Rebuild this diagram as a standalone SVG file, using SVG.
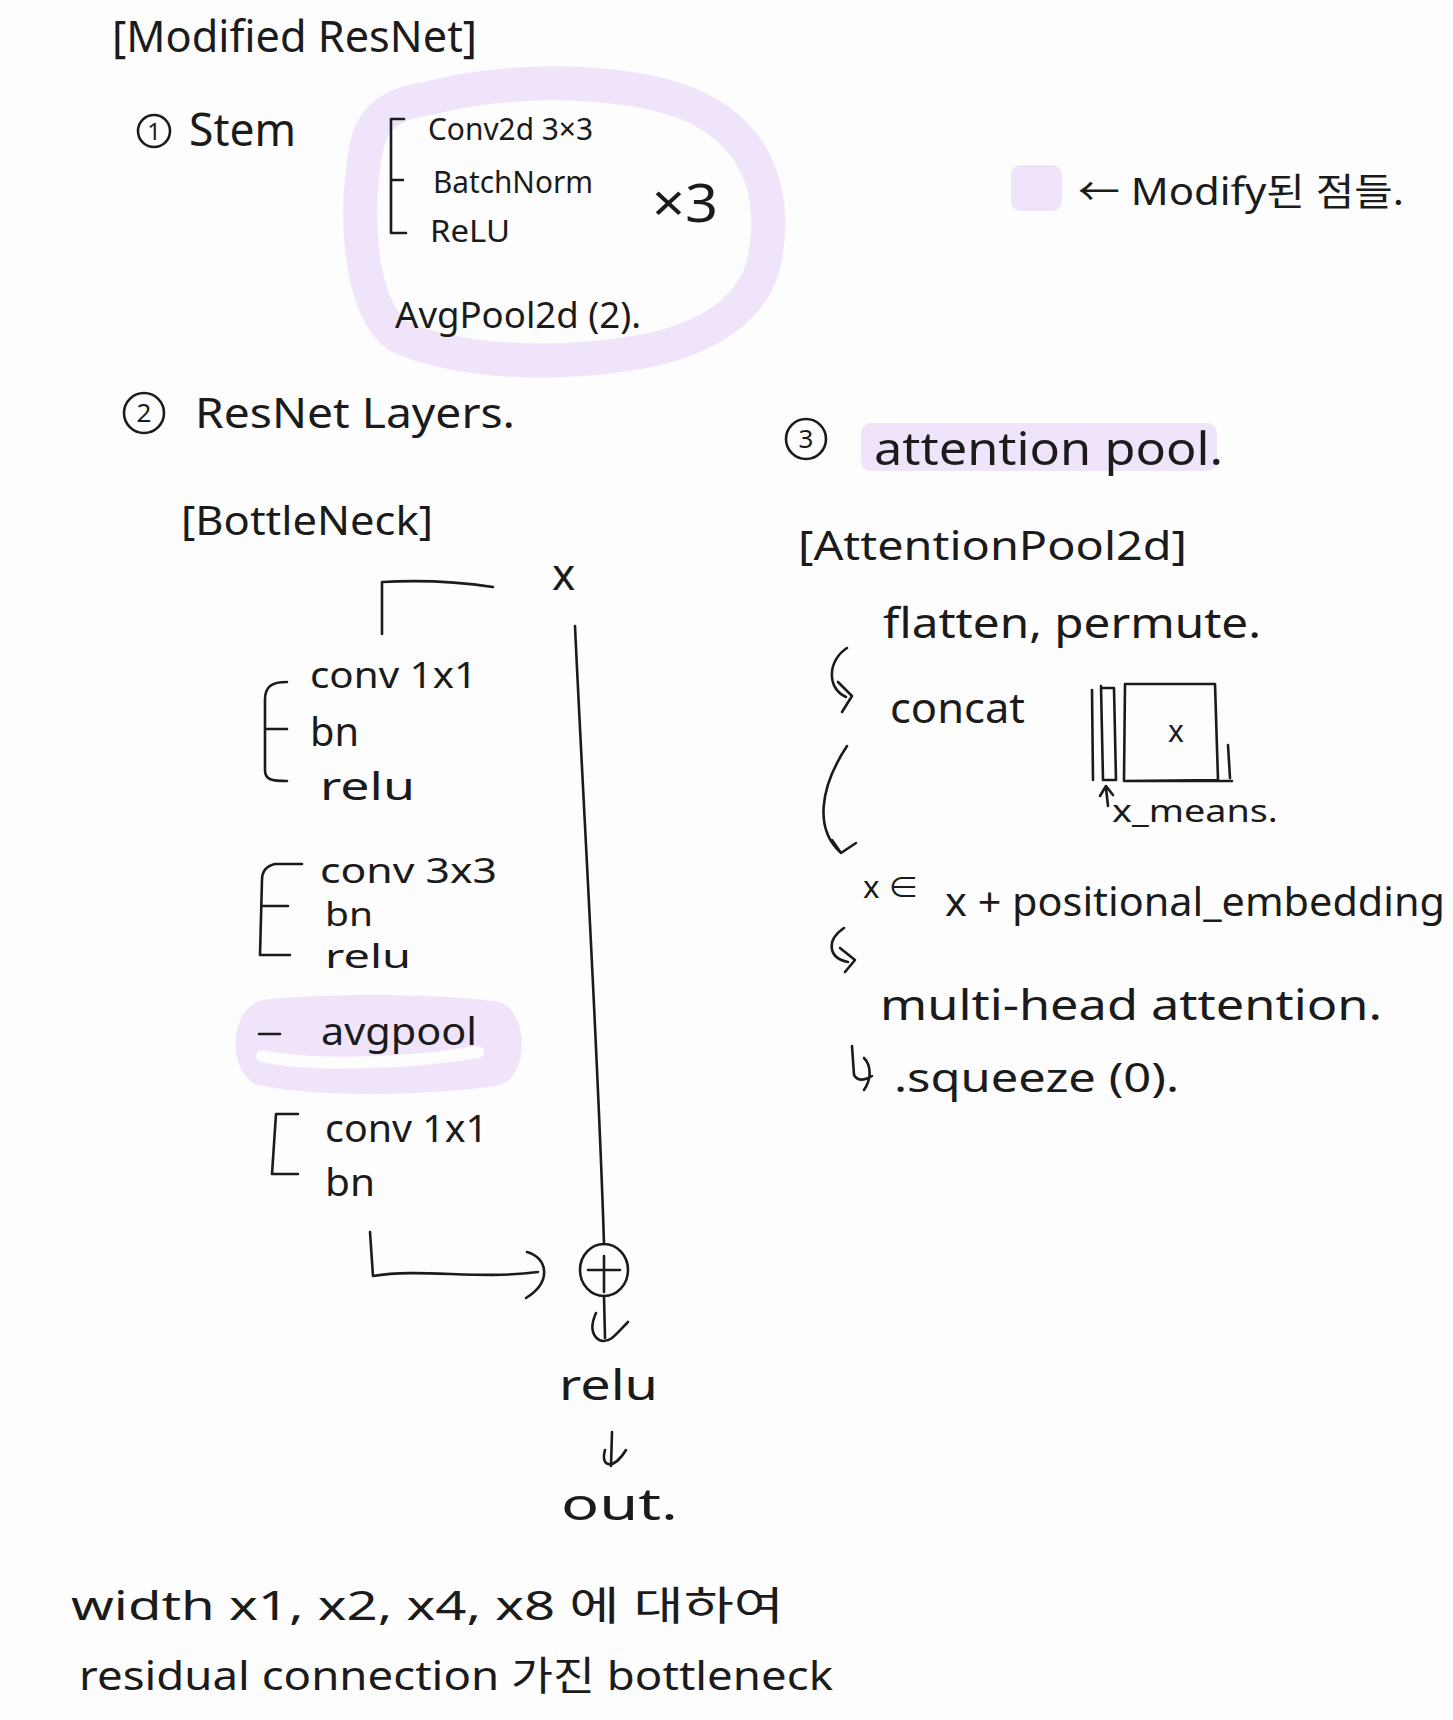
<svg xmlns="http://www.w3.org/2000/svg" width="1453" height="1720" viewBox="0 0 1453 1720">
<style>
text{font-family:"Noto Sans","Noto Sans CJK KR",sans-serif;fill:#1b1b1b;}
.hl{fill:none;stroke:#f0e4fa;stroke-linecap:round;stroke-linejoin:round;}
.ln{fill:none;stroke:#1b1b1b;stroke-width:2.6;stroke-linecap:round;stroke-linejoin:round;}
</style>
<rect width="1453" height="1720" fill="#fdfdfd"/>

<g id="highlights">
<path class="hl" stroke-width="34" d="M430 98 C520 74,650 80,705 112 C765 146,775 205,765 258 C755 310,705 340,640 352 C560 366,460 364,398 336 C356 305,354 200,368 140 C378 110,402 102,430 98 Z"/>
<path d="M262 1000 C330 992,450 994,500 1002 C528 1012,530 1075,500 1085 C420 1098,300 1096,255 1084 C228 1070,228 1010,262 1000 Z" fill="#f0e4fa"/>
<path d="M262 1056 C320 1068,420 1062,478 1052" fill="none" stroke="#fdfdfd" stroke-width="12" stroke-linecap="round"/>
<rect x="861" y="423" width="356" height="48" rx="10" fill="#f0e4fa"/>
<rect x="1011" y="165" width="51" height="46" rx="10" fill="#f0e4fa"/>
</g>

<g id="title"><text x="112" y="52" font-size="44" textLength="365" lengthAdjust="spacingAndGlyphs">[Modified ResNet]</text></g>

<g id="stem">
<circle cx="154" cy="131" r="16" class="ln"/>
<text x="154" y="140" font-size="24" text-anchor="middle">1</text>
<text x="189" y="146" font-size="46" textLength="107" lengthAdjust="spacingAndGlyphs">Stem</text>
<path class="ln" d="M404 119 L391 119 L391 233 L406 233 M391 180 L403 180"/>
<text x="428" y="140" font-size="30" textLength="165" lengthAdjust="spacingAndGlyphs">Conv2d  3×3</text>
<text x="433" y="193" font-size="30" textLength="160" lengthAdjust="spacingAndGlyphs">BatchNorm</text>
<text x="430" y="242" font-size="30" textLength="80" lengthAdjust="spacingAndGlyphs">ReLU</text>
<text x="652" y="222" font-size="52" textLength="66" lengthAdjust="spacingAndGlyphs">×3</text>
<text x="395" y="328" font-size="36" textLength="246" lengthAdjust="spacingAndGlyphs">AvgPool2d (2).</text>
</g>

<g id="legend"><text x="1078" y="205" font-size="38" textLength="326" lengthAdjust="spacingAndGlyphs">← Modify된 점들.</text></g>

<g id="resnet-layers">
<circle cx="144" cy="413" r="20" class="ln"/>
<text x="144" y="422" font-size="26" text-anchor="middle">2</text>
<text x="195" y="428" font-size="42" textLength="320" lengthAdjust="spacingAndGlyphs">ResNet Layers.</text>
<text x="181" y="535" font-size="40" textLength="252" lengthAdjust="spacingAndGlyphs">[BottleNeck]</text>
</g>

<g id="input-x"><text x="552" y="590" font-size="44">x</text></g>

<g id="block1">
<path class="ln" d="M287 682 C272 682,265 686,265 700 L265 770 C265 780,272 781,287 781 M265 729 L287 729"/>
<text x="310" y="688" font-size="36" textLength="167" lengthAdjust="spacingAndGlyphs">conv 1x1</text>
<text x="310" y="746" font-size="40" textLength="49" lengthAdjust="spacingAndGlyphs">bn</text>
<text x="320" y="800" font-size="38" textLength="95" lengthAdjust="spacingAndGlyphs">relu</text>
</g>

<g id="block2">
<path class="ln" d="M302 864 L275 864 C266 866,262 872,262 880 L260 955 L290 955 M262 906 L288 906"/>
<text x="320" y="883" font-size="34" textLength="177" lengthAdjust="spacingAndGlyphs">conv 3x3</text>
<text x="325" y="926" font-size="32" textLength="48" lengthAdjust="spacingAndGlyphs">bn</text>
<text x="325" y="968" font-size="32" textLength="86" lengthAdjust="spacingAndGlyphs">relu</text>
</g>

<g id="avgpool">
<path class="ln" d="M259 1034 L280 1034"/>
<text x="321" y="1045" font-size="38" textLength="156" lengthAdjust="spacingAndGlyphs">avgpool</text>
</g>

<g id="block3">
<path class="ln" d="M298 1114 L276 1114 L272 1174 L298 1174"/>
<text x="325" y="1142" font-size="38" textLength="163" lengthAdjust="spacingAndGlyphs">conv 1x1</text>
<text x="325" y="1196" font-size="38" textLength="50" lengthAdjust="spacingAndGlyphs">bn</text>
</g>

<g id="add">
<ellipse cx="604" cy="1270" rx="24" ry="26" class="ln"/>
<path class="ln" d="M588 1270 L620 1270 M604 1256 L604 1292"/>
</g>

<g id="relu-out">
<text x="559" y="1400" font-size="42" textLength="99" lengthAdjust="spacingAndGlyphs">relu</text>
<text x="561" y="1520" font-size="44" textLength="117" lengthAdjust="spacingAndGlyphs">out.</text>
</g>

<g id="footnote">
<text x="71" y="1620" font-size="40" textLength="713" lengthAdjust="spacingAndGlyphs">width x1, x2, x4, x8 에 대하여</text>
<text x="79" y="1690" font-size="40" textLength="754" lengthAdjust="spacingAndGlyphs">residual connection 가진 bottleneck</text>
</g>

<g id="attention-pool">
<circle cx="806" cy="439" r="20" class="ln"/>
<text x="806" y="448" font-size="26" text-anchor="middle">3</text>
<text x="874" y="465" font-size="46" textLength="349" lengthAdjust="spacingAndGlyphs">attention pool.</text>
<text x="798" y="560" font-size="40" textLength="389" lengthAdjust="spacingAndGlyphs">[AttentionPool2d]</text>
</g>

<g id="flatten"><text x="883" y="638" font-size="42" textLength="378" lengthAdjust="spacingAndGlyphs">flatten, permute.</text></g>

<g id="concat">
<text x="890" y="723" font-size="42" textLength="135" lengthAdjust="spacingAndGlyphs">concat</text>
<path class="ln" d="M1092 690 L1093 780 M1101 686 L1103 780 L1116 780 L1114 688 L1103 688"/>
<path class="ln" d="M1125 684 L1215 684 L1218 780 L1124 781 Z M1228 745 L1230 778 M1124 781 L1232 781"/>
<text x="1176" y="742" font-size="30" text-anchor="middle">x</text>
<path class="ln" d="M1108 806 L1106 788 M1100 796 L1106 786 L1113 795"/>
<text x="1112" y="822" font-size="30" textLength="166" lengthAdjust="spacingAndGlyphs">x_means.</text>
</g>

<g id="pos-embed">
<text x="863" y="898" font-size="30" textLength="56" lengthAdjust="spacingAndGlyphs">x ∈</text>
<text x="945" y="916" font-size="40" textLength="500" lengthAdjust="spacingAndGlyphs">x + positional_embedding</text>
</g>

<g id="mha"><text x="880" y="1020" font-size="42" textLength="502" lengthAdjust="spacingAndGlyphs">multi-head attention.</text></g>

<g id="squeeze"><text x="894" y="1092" font-size="40" textLength="285" lengthAdjust="spacingAndGlyphs">.squeeze (0).</text></g>

<g id="connectors">
<path class="ln" d="M382 634 L382 582 C420 580,460 582,493 587"/>
<path class="ln" d="M575 626 C583 800,598 1050,604 1244"/>
<path class="ln" d="M370 1232 L373 1276 C420 1268,480 1280,538 1272"/>
<path class="ln" d="M527 1252 C548 1258,552 1282,526 1298"/>
<path class="ln" d="M604 1296 L605 1338"/>
<path class="ln" d="M596 1313 C586 1335,600 1347,612 1338 C618 1333,622 1328,628 1322"/>
<path class="ln" d="M612 1432 L611 1466"/>
<path class="ln" d="M605 1450 C600 1468,614 1470,626 1450"/>
<path class="ln" d="M847 648 C828 660,826 688,846 697 M838 682 L852 696 L842 712"/>
<path class="ln" d="M847 746 C818 790,816 830,840 852 M832 840 L841 853 L856 843"/>
<path class="ln" d="M844 928 C826 940,828 958,848 962 M840 948 L855 960 L845 972"/>
<path class="ln" d="M852 1046 L854 1075 C858 1082,866 1080,872 1076"/>
<path class="ln" d="M864 1058 C872 1066,871 1080,864 1090"/>
</g>
</svg>
